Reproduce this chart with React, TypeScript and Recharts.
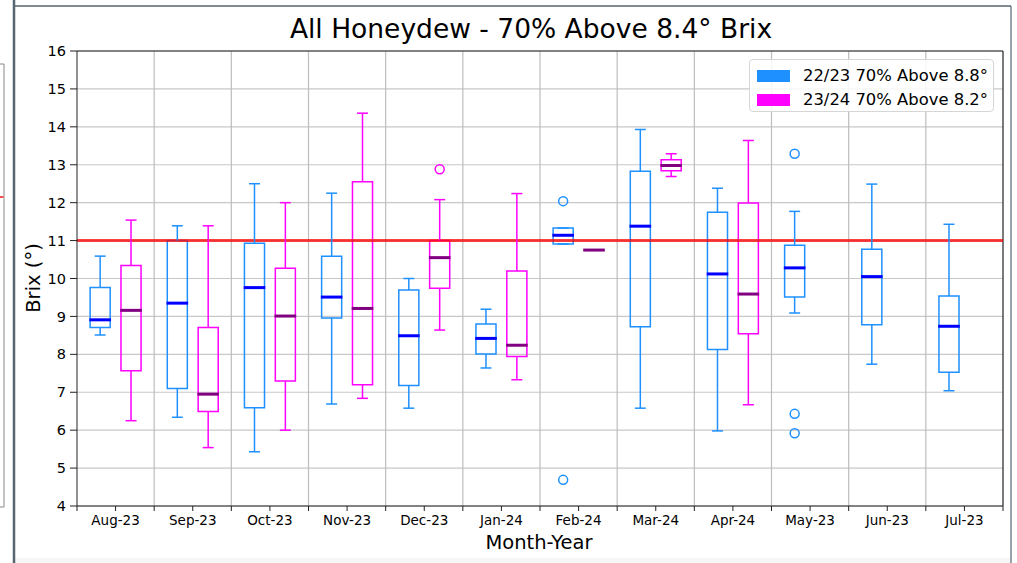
import { ComposedChart, XAxis, YAxis, CartesianGrid, ReferenceLine, ReferenceArea, Scatter } from 'recharts';

// Month categories in plotting order
const months = ['Aug-23', 'Sep-23', 'Oct-23', 'Nov-23', 'Dec-23', 'Jan-24', 'Feb-24', 'Mar-24', 'Apr-24', 'May-23', 'Jun-23', 'Jul-23'];
const seasonNames = ['22/23 70% Above 8.8°', '23/24 70% Above 8.2°'];
const yTicks = [4, 5, 6, 7, 8, 9, 10, 11, 12, 13, 14, 15, 16];
const target = 11;

// 22/23 season box stats (blue)
const blueLow = [8.51, 6.34, 5.43, 6.69, 6.58, 7.64, 10.91, 6.58, 5.98, 9.09, 7.74, 7.04];
const blueQ1 = [8.71, 7.1, 6.59, 8.96, 7.18, 8.01, 10.91, 8.73, 8.13, 9.51, 8.78, 7.53];
const blueMed = [8.91, 9.35, 9.76, 9.51, 8.49, 8.42, 11.14, 11.38, 10.12, 10.28, 10.05, 8.74];
const blueQ3 = [9.76, 11.0, 10.93, 10.59, 9.7, 8.8, 11.33, 12.83, 11.75, 10.88, 10.77, 9.54];
const blueHigh = [10.59, 11.39, 12.5, 12.25, 10.0, 9.19, 11.33, 13.93, 12.38, 11.77, 12.49, 11.43];

// 23/24 season box stats (magenta), null where no data
const magLow = [6.25, 5.54, 6.0, 6.84, 8.64, 7.33, 10.75, 12.69, 6.67, null, null, null];
const magQ1 = [7.57, 6.49, 7.3, 7.2, 9.74, 7.94, 10.75, 12.84, 8.54, null, null, null];
const magMed = [9.16, 6.95, 9.01, 9.21, 10.55, 8.24, 10.75, 12.98, 9.59, null, null, null];
const magQ3 = [10.34, 8.71, 10.27, 12.55, 11.0, 10.2, 10.75, 13.13, 11.99, null, null, null];
const magHigh = [11.54, 11.39, 12.0, 14.36, 12.08, 12.24, 10.75, 13.29, 13.64, null, null, null];

// fliers
const blueOutlierMonth = ['Feb-24', 'Feb-24', 'May-23', 'May-23', 'May-23'];
const blueOutlierValue = [12.04, 4.69, 13.29, 6.43, 5.92];
const magOutlierMonth = ['Dec-23'];
const magOutlierValue = [12.88];

const BLUE = '#1e90ff';
const MAGENTA = '#ff00ff';
const FONT = '"DejaVu Sans", sans-serif';

const BOX_HALF = 0.13;
const CAP_HALF = 0.071;
const OFFSET = 0.2;

function boxElements(
  key: string,
  i: number,
  dx: number,
  low: number,
  q1: number,
  med: number,
  q3: number,
  high: number,
  color: string,
  medColor: string,
) {
  const cx = i + 0.5 + dx;
  const seg = (x1: number, y1: number, x2: number, y2: number) => [
    { x: x1, y: y1 },
    { x: x2, y: y2 },
  ];
  return [
    <ReferenceLine key={key + 'wl'} segment={seg(cx, low, cx, q1)} stroke={color} strokeWidth={1.5} />,
    <ReferenceLine key={key + 'wh'} segment={seg(cx, q3, cx, high)} stroke={color} strokeWidth={1.5} />,
    <ReferenceLine key={key + 'cl'} segment={seg(cx - CAP_HALF, low, cx + CAP_HALF, low)} stroke={color} strokeWidth={1.5} />,
    <ReferenceLine key={key + 'ch'} segment={seg(cx - CAP_HALF, high, cx + CAP_HALF, high)} stroke={color} strokeWidth={1.5} />,
    <ReferenceArea
      key={key + 'b'}
      x1={cx - BOX_HALF}
      x2={cx + BOX_HALF}
      y1={q1}
      y2={q3}
      fill="none"
      fillOpacity={0}
      stroke={color}
      strokeWidth={1.5}
    />,
    <ReferenceLine key={key + 'm'} segment={seg(cx - BOX_HALF - 0.01, med, cx + BOX_HALF + 0.01, med)} stroke={medColor} strokeWidth={3} />,
  ];
}

const xTicks: number[] = [];
for (let i = 0; i <= months.length * 2; i++) xTicks.push(i / 2);

function MonthTick(props: any) {
  const { x, y, payload } = props;
  const v = payload.value;
  if (Math.abs((v % 1) - 0.5) > 0.01) return <g />;
  return (
    <text x={x} y={y} dy="0.71em" textAnchor="middle" fontSize={13.5} fontFamily={FONT} fill="#000">
      {months[Math.floor(v)]}
    </text>
  );
}

const Flier = (color: string) => (props: any) =>
  <circle cx={props.cx} cy={props.cy} r={4.5} fill="none" stroke={color} strokeWidth={1.5} />;

export default function App() {
  const blueFliers = blueOutlierMonth.map((m, k) => ({ x: months.indexOf(m) + 0.5 - OFFSET, y: blueOutlierValue[k] }));
  const magFliers = magOutlierMonth.map((m, k) => ({ x: months.indexOf(m) + 0.5 + OFFSET, y: magOutlierValue[k] }));

  const boxes: any[] = [];
  months.forEach((_, i) => {
    boxes.push(...boxElements('b' + i, i, -OFFSET, blueLow[i], blueQ1[i], blueMed[i], blueQ3[i], blueHigh[i], BLUE, '#0000ff'));
    if (magMed[i] !== null) {
      boxes.push(
        ...boxElements('m' + i, i, OFFSET, magLow[i] as number, magQ1[i] as number, magMed[i] as number, magQ3[i] as number, magHigh[i] as number, MAGENTA, '#800080'),
      );
    }
  });

  return (
    <div style={{ position: 'fixed', left: 0, top: 0, width: 1017, height: 563, background: '#fff', fontFamily: FONT }}>
      <ComposedChart width={1017} height={563} margin={{ top: 51, right: 14, bottom: 27, left: 17 }}>
        <CartesianGrid vertical={false} stroke="#c8c8c8" strokeWidth={1.2} />
        <XAxis
          type="number"
          dataKey="x"
          domain={[0, months.length]}
          ticks={xTicks}
          interval={0}
          height={30}
          tickSize={5}
          tickMargin={4}
          tick={MonthTick}
          stroke="#222"
          allowDataOverflow
        />
        <YAxis
          type="number"
          dataKey="y"
          domain={[4, 16]}
          ticks={yTicks}
          interval={0}
          width={60}
          tickSize={7}
          tickMargin={4}
          stroke="#222"
          tick={{ fontSize: 14.5, fill: '#000', fontFamily: FONT }}
          allowDataOverflow
        />
        {months.slice(1).map((_, i) => (
          <ReferenceLine key={'vg' + i} x={i + 1} stroke="#bdbdbd" strokeWidth={1.2} />
        ))}
        <ReferenceLine y={16} stroke="#222" strokeWidth={1.2} />
        <ReferenceLine x={months.length} stroke="#222" strokeWidth={1.2} />
        <ReferenceLine y={target} stroke="red" strokeOpacity={0.75} strokeWidth={3} />
        {boxes}
        <Scatter name={seasonNames[0]} data={blueFliers} shape={Flier(BLUE)} isAnimationActive={false} />
        <Scatter name={seasonNames[1]} data={magFliers} shape={Flier(MAGENTA)} isAnimationActive={false} />
      </ComposedChart>

      <svg width={1017} height={563} style={{ position: 'absolute', left: 0, top: 0, pointerEvents: 'none' }}>
        <rect x={15} y={558} width={995} height={5} fill="#f6f6f6" />
        <line x1={4} y1={64} x2={4} y2={507} stroke="#888" strokeWidth={1} />
        <line x1={0} y1={64} x2={4} y2={64} stroke="#888" strokeWidth={1} />
        <line x1={0} y1={507} x2={4} y2={507} stroke="#888" strokeWidth={1} />
        <line x1={0} y1={197} x2={3.5} y2={197} stroke="#f05050" strokeWidth={2} />
        <line x1={14} y1={0} x2={14} y2={563} stroke="#56656f" strokeWidth={2.5} />
        <line x1={14} y1={6} x2={1011} y2={6} stroke="#56656f" strokeWidth={1.5} />
        <line x1={1011} y1={6} x2={1011} y2={563} stroke="#56656f" strokeWidth={1.2} />
        <text x={531} y={38} textAnchor="middle" fontSize={26.5} fontFamily={FONT} fill="#000">
          All Honeydew - 70% Above 8.4° Brix
        </text>
        <text x={539} y={549} textAnchor="middle" fontSize={19.5} fontFamily={FONT} fill="#000">
          Month-Year
        </text>
        <text x={40} y={278} textAnchor="middle" fontSize={19.5} fontFamily={FONT} fill="#000" transform="rotate(-90 40 278)">
          Brix (°)
        </text>
      </svg>

      <div
        style={{
          position: 'absolute',
          left: 749,
          top: 59,
          width: 245,
          height: 53,
          boxSizing: 'border-box',
          border: '1px solid #d6d6d6',
          borderRadius: 4,
          background: 'rgba(255,255,255,0.85)',
        }}
      >
        {seasonNames.map((name, k) => (
          <div key={name} style={{ position: 'absolute', left: 7, top: 5 + k * 24, height: 22, display: 'flex', alignItems: 'center' }}>
            <span style={{ display: 'inline-block', width: 33, height: 11.5, background: k === 0 ? BLUE : MAGENTA }} />
            <span style={{ marginLeft: 13, fontSize: 16.4, color: '#000', whiteSpace: 'nowrap', lineHeight: '22px' }}>{name}</span>
          </div>
        ))}
      </div>
    </div>
  );
}
